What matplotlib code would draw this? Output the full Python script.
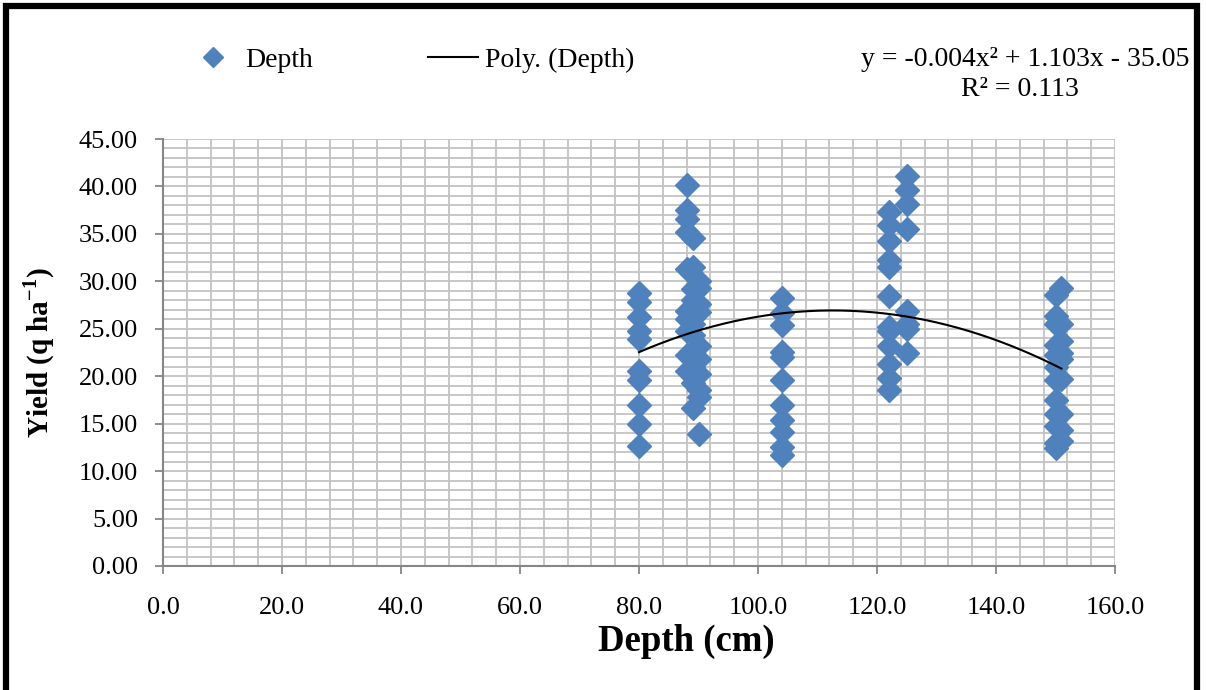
import numpy as np
import matplotlib
matplotlib.use("Agg")
import matplotlib.pyplot as plt
from matplotlib.lines import Line2D
from matplotlib.patches import Rectangle
from matplotlib.ticker import MultipleLocator, FormatStrFormatter

plt.rcParams['font.family'] = ['Liberation Serif', 'DejaVu Serif']
plt.rcParams['mathtext.fontset'] = 'custom'
plt.rcParams['mathtext.rm'] = 'Liberation Serif'
plt.rcParams['mathtext.bf'] = 'Liberation Serif:bold'

# ---- data ----
yield_80 = [28.8, 27.8, 26.2, 24.8, 23.9, 20.5, 19.6, 17.0, 15.0, 12.6]
yield_88 = [40.1, 37.5, 36.6, 35.2, 31.3, 26.9, 26.0, 24.8, 22.2, 20.5]
yield_89 = [34.6, 31.5, 29.2, 28.0, 25.5, 24.3, 22.0, 21.0, 19.3, 16.6]
yield_90 = [30.0, 29.3, 27.6, 26.8, 23.2, 21.8, 20.2, 18.5, 17.8, 13.9]
yield_104 = [28.2, 26.7, 25.4, 22.6, 22.0, 19.6, 17.0, 15.4, 14.1, 12.5, 11.7]
yield_122 = [37.3, 35.9, 34.3, 32.3, 31.5, 28.5, 25.2, 24.8, 23.2, 21.3, 19.8, 18.6]
yield_125 = [41.1, 39.6, 38.2, 35.5, 26.9, 25.5, 25.0, 22.4]
yield_150 = [28.6, 26.3, 25.5, 23.3, 22.2, 21.0, 19.6, 17.5, 16.0, 14.8, 13.0, 12.4]
yield_151 = [29.3, 25.5, 23.7, 22.5, 21.8, 19.7, 16.0, 14.3, 13.2]

depth_levels = [80, 88, 89, 90, 104, 122, 125, 150, 151]
yield_groups = [yield_80, yield_88, yield_89, yield_90, yield_104,
                yield_122, yield_125, yield_150, yield_151]

x_ticks = [0, 20, 40, 60, 80, 100, 120, 140, 160]
y_ticks = [0, 5, 10, 15, 20, 25, 30, 35, 40, 45]

equation_text = "y = -0.004x\u00b2 + 1.103x - 35.05"
r2_text = "R\u00b2 = 0.113"

depth = np.concatenate([[d] * len(g) for d, g in zip(depth_levels, yield_groups)])
yld = np.concatenate(yield_groups)

# ---- figure ----
W, H = 1207, 690
fig = plt.figure(figsize=(W / 100, H / 100), dpi=100)
ax = fig.add_axes([163 / W, 1 - 566 / H, (1115 - 163) / W, (566 - 139) / H])

blue = '#4F81BD'
grid_c = '#c3c3c3'
axis_c = '#868686'

ax.set_xlim(0, 160)
ax.set_ylim(0, 45)
ax.xaxis.set_minor_locator(MultipleLocator(4))
ax.yaxis.set_minor_locator(MultipleLocator(1))
ax.set_xticks(x_ticks)
ax.set_yticks(y_ticks)
ax.xaxis.set_major_formatter(FormatStrFormatter('%.1f'))
ax.yaxis.set_major_formatter(FormatStrFormatter('%.2f'))
ax.grid(which='both', color=grid_c, linewidth=1.3)
ax.set_axisbelow(True)
for s in ['top', 'right']:
    ax.spines[s].set_visible(False)
for s in ['left', 'bottom']:
    ax.spines[s].set_color(axis_c)
    ax.spines[s].set_linewidth(1.5)
ax.tick_params(which='major', direction='out', length=6, width=1.3, color=axis_c,
               labelsize=19)
ax.tick_params(axis='x', which='major', pad=16)
ax.tick_params(axis='y', which='major', pad=12)
ax.tick_params(which='minor', length=0)

ax.plot(depth, yld, linestyle='none', marker='D', markersize=12,
        color=blue, markeredgecolor=blue, zorder=3, clip_on=False)

coef = np.polyfit(depth, yld, 2)
xs = np.linspace(depth.min(), depth.max(), 200)
ax.plot(xs, np.polyval(coef, xs), color='black', linewidth=1.5, zorder=4)

ax.set_xlabel('Depth (cm)', fontsize=26.5, fontweight='bold')
ax.xaxis.set_label_coords((686 - 163) / 952, (566 - 624) / 427)
ax.set_ylabel(r'Yield (q ha$^{\mathbf{-1}}$)', fontsize=21, fontweight='bold', labelpad=16)

# legend
handles = [Line2D([], [], linestyle='none', marker='D', markersize=10, color=blue),
           Line2D([], [], color='black', linewidth=1.5)]
fig.legend(handles, ['Depth', 'Poly. (Depth)'], ncol=2, frameon=False,
           loc='center left', bbox_to_anchor=(188 / W, 1 - 60 / H),
           fontsize=20, handlelength=1.8, handletextpad=0.25, columnspacing=4.15,
           borderpad=0, borderaxespad=0)

fig.text(1189 / W, 1 - 60 / H, equation_text, ha='right', va='center', fontsize=20)
fig.text(1020 / W, 1 - 90 / H, r2_text, ha='center', va='center', fontsize=20)

# outer frame
fig.patches.append(Rectangle((6 / W, -0.05), (1197 - 6) / W, 1.05 - 6 / H,
                             transform=fig.transFigure, fill=False,
                             edgecolor='black', linewidth=4.5))

fig.savefig('out.png', dpi=100)
